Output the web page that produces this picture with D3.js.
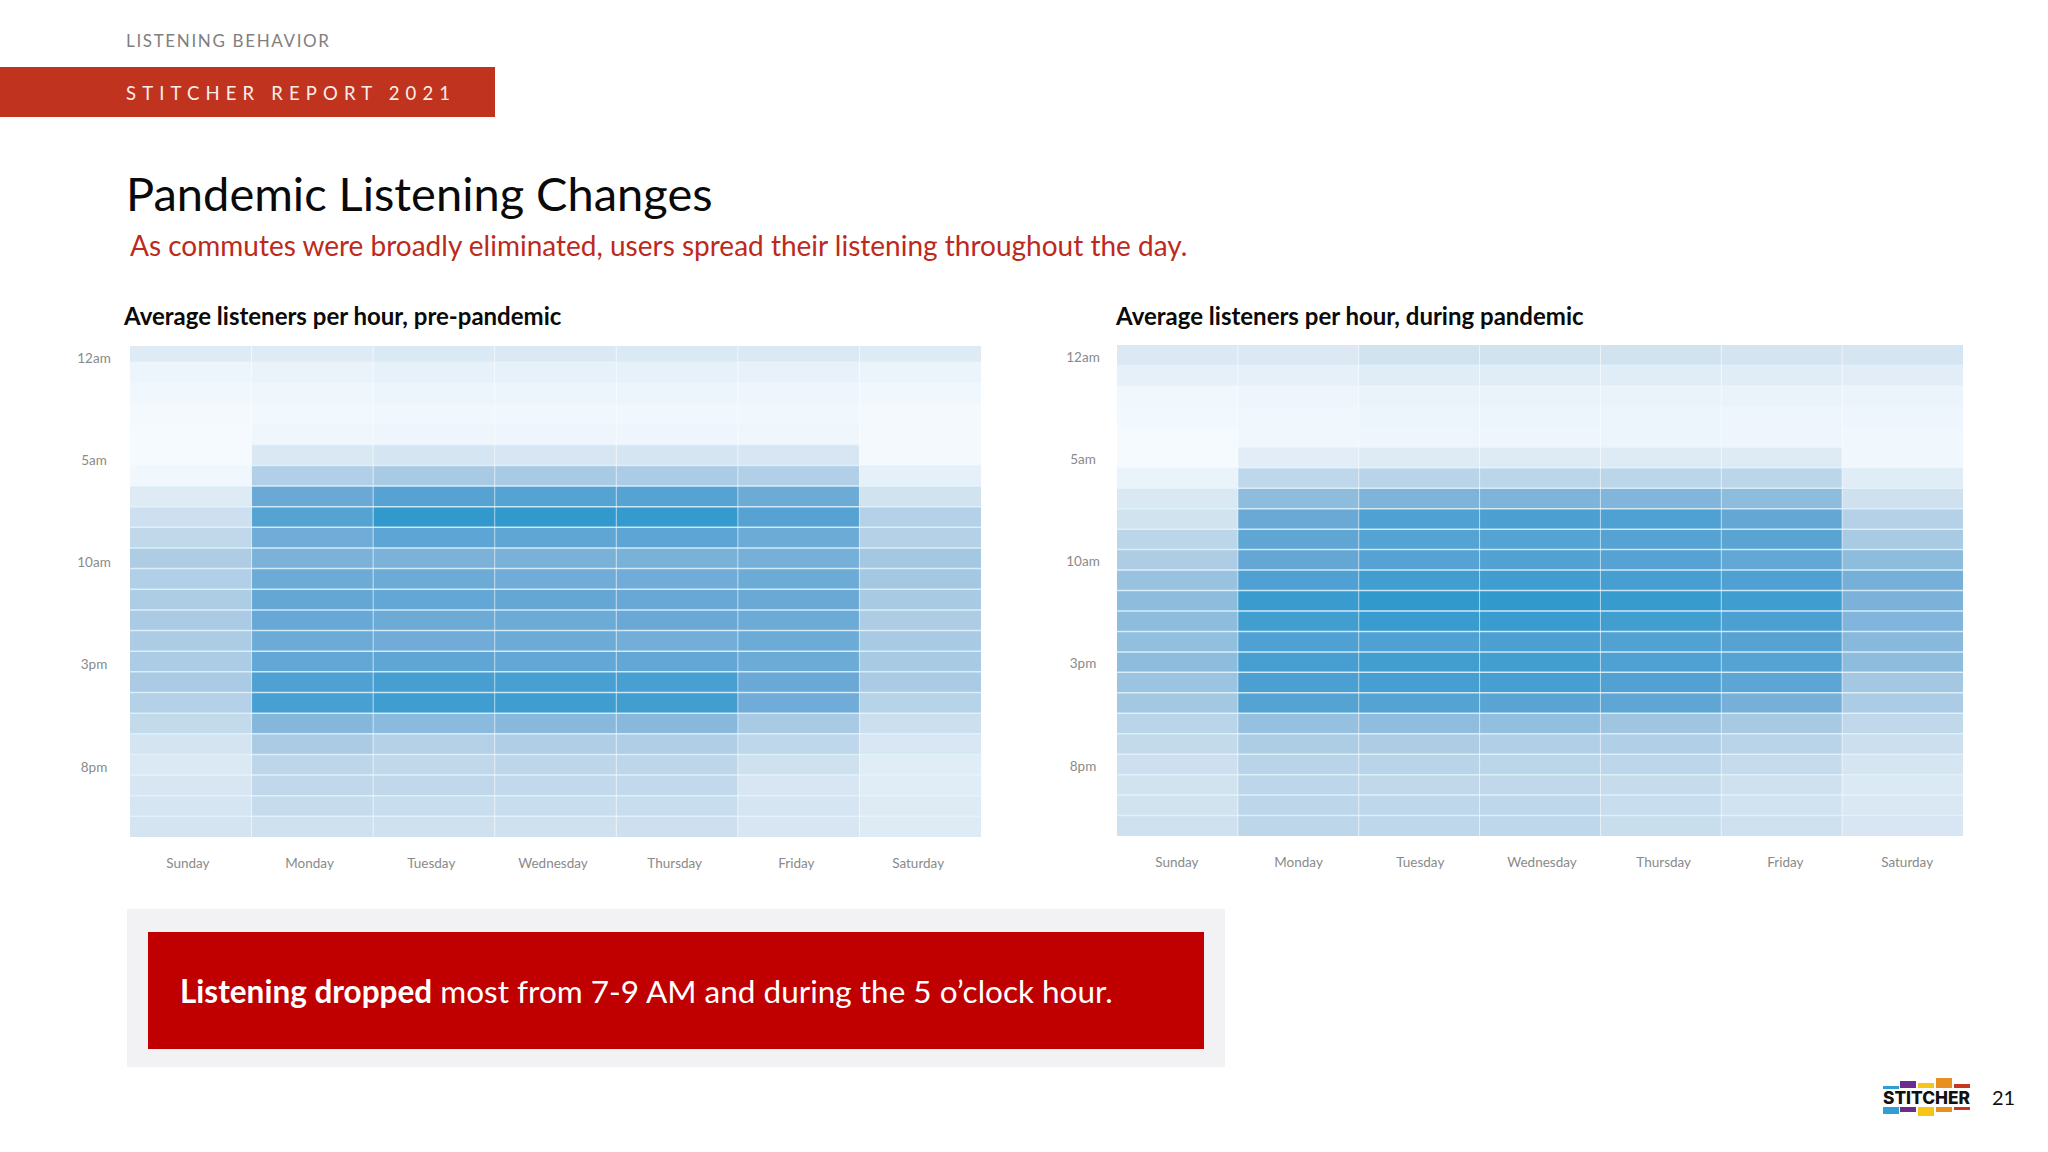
<!DOCTYPE html>
<html><head><meta charset="utf-8">
<script src="https://cdn.jsdelivr.net/npm/d3@7/dist/d3.min.js"></script>
<style>html,body{margin:0;padding:0;background:#fff}svg{display:block}text{font-family:Lato,"Open Sans",sans-serif}</style>
</head><body><svg id="c" width="2048" height="1152"></svg>
<script>
const days=["Sunday","Monday","Tuesday","Wednesday","Thursday","Friday","Saturday"];
const hours=["12am","1am","2am","3am","4am","5am","6am","7am","8am","9am","10am","11am","12pm","1pm","2pm","3pm","4pm","5pm","6pm","7pm","8pm","9pm","10pm","11pm"];
const hourTicks=["12am","5am","10am","3pm","8pm"];
const prePandemic=[
[20,20,23,22,23,23,20],[8,10,13,13,13,12,9],[5,6,8,8,8,7,5],[2,3,5,5,5,5,2],[1,6,7,7,7,6,2],[1,24,27,26,27,26,2],
[5,52,58,58,56,52,14],[20,80,87,88,87,79,30],[33,88,100,100,99,87,50],[42,78,85,84,85,79,50],[54,74,74,75,75,76,60],[52,79,79,78,78,79,60],
[55,82,83,82,81,80,58],[57,81,79,79,80,79,54],[56,79,78,79,77,79,58],[56,83,84,83,83,79,58],[57,90,93,92,92,80,57],[50,92,95,95,94,78,48],
[40,71,69,70,70,58,35],[28,57,50,53,53,43,25],[23,44,42,44,44,32,18],[26,42,42,41,41,26,18],[27,38,37,37,37,27,20],[28,32,32,32,33,26,20]];
const duringPandemic=[
[22,22,30,30,30,28,27],[14,14,18,18,18,18,17],[5,7,10,10,10,10,9],[3,5,8,8,8,7,7],[1,5,7,7,8,7,4],[1,17,20,20,20,20,4],
[10,43,47,45,45,45,18],[24,68,73,73,72,68,32],[30,80,90,91,90,82,50],[45,84,88,88,87,86,58],[54,82,87,89,87,83,68],[64,90,94,95,93,90,76],
[68,97,100,100,98,95,74],[68,94,97,97,94,91,72],[66,90,90,91,89,87,70],[68,93,94,94,90,88,68],[63,91,93,93,89,85,60],[60,88,88,86,84,76,56],
[46,65,67,66,62,59,42],[40,55,54,52,52,47,35],[33,47,47,45,44,38,27],[30,44,42,42,38,32,23],[30,44,43,43,37,31,24],[32,44,43,43,36,32,26]];

const svg=d3.select("#c");
const color=d3.scaleLinear().domain([0,30,60,80,100]).range(["#f6fbff","#d2e3f0","#a5c8e2","#6aa9d6","#3299cd"]);

function txt(x,y,s,size,fill,extra){const t=svg.append("text").attr("x",x).attr("y",y).attr("font-size",size).attr("fill",fill).text(s);
 if(extra)Object.entries(extra).forEach(([k,v])=>t.attr(k,v));return t;}

// header
svg.append("rect").attr("x",0).attr("y",67).attr("width",495).attr("height",50).attr("fill","#c0341f");
txt(126,47,"LISTENING BEHAVIOR",17,"#7f7f7f",{"letter-spacing":"1.65px"});
txt(126,100,"STITCHER REPORT 2021",18.5,"#fbeeea",{"letter-spacing":"6.14px"});
txt(126,211,"Pandemic Listening Changes",47,"#0a0a0a");
txt(130,256,"As commutes were broadly eliminated, users spread their listening throughout the day.",28,"#bd2a1c");
txt(124,325,"Average listeners per hour, pre-pandemic",24,"#0a0a0a",{"font-weight":700});
txt(1116,325,"Average listeners per hour, during pandemic",24,"#0a0a0a",{"font-weight":700});

function heatmap(id,data,L,R,T,B,rowCut,axL,axR,labelX){
 const x=d3.scaleBand().domain(days).range([L,R]);
 // the first row can be cropped at the top of the plot: the scale starts above it
 const y=d3.scaleBand().domain(hours).range([T-rowCut,B]);
 const labelY=d3.scaleBand().domain(hours).range([T,B]);
 svg.append("clipPath").attr("id",id).append("rect").attr("x",L).attr("y",T).attr("width",R-L).attr("height",B-T);
 const g=svg.append("g").attr("clip-path",`url(#${id})`).style("isolation","isolate");
 data.forEach((row,i)=>row.forEach((v,j)=>{
  g.append("rect").attr("x",x(days[j])).attr("y",y(hours[i])).attr("width",x.bandwidth()+.5).attr("height",y.bandwidth()+.5).attr("fill",color(v));
 }));
 g.selectAll(".h").data(hours.slice(1)).join("line").attr("x1",L).attr("x2",R).attr("y1",d=>y(d)).attr("y2",d=>y(d)).attr("stroke","#e2f4fd").attr("stroke-opacity",.85).attr("stroke-width",1.5).style("mix-blend-mode","lighten");
 g.selectAll(".v").data(days.slice(1)).join("line").attr("x1",d=>x(d)).attr("x2",d=>x(d)).attr("y1",T).attr("y2",B).attr("stroke","#fff").attr("stroke-opacity",.6).attr("stroke-width",1);
 const xa=d3.scaleBand().domain(days).range([axL,axR]);
 const gx=svg.append("g").attr("transform",`translate(0,${B+21})`).call(d3.axisBottom(xa).tickSize(0).tickPadding(0));
 gx.select(".domain").remove();
 gx.selectAll("text").attr("font-size",13.5).attr("fill","#8a8a8a").attr("dy","0.71em").style("font-family","Lato");
 const gy=svg.append("g").attr("transform",`translate(${labelX},2)`).call(d3.axisLeft(labelY).tickValues(hourTicks).tickSize(0).tickPadding(0));
 gy.select(".domain").remove();
 gy.selectAll("text").attr("font-size",13.5).attr("fill","#8a8a8a").attr("text-anchor","middle").style("font-family","Lato");
}
heatmap("clipPre",prePandemic,130,981,346,837,4.5,127,979,94);
heatmap("clipDuring",duringPandemic,1117,1963,345,836,0,1116,1968,1083);

// callout
svg.append("rect").attr("x",127).attr("y",909).attr("width",1098).attr("height",158).attr("fill","#f2f2f4");
svg.append("rect").attr("x",148).attr("y",932).attr("width",1056).attr("height",117).attr("fill","#c00000");
const t=txt(180,1003,"",31.5,"#fff");
t.append("tspan").attr("font-weight",700).text("Listening dropped");
t.append("tspan").text(" most from 7-9 AM and during the 5 o\u2019clock hour.");

// logo
const logoTop=[["#2e9fd0",1883,1086,16,3],["#6a2c8f",1900,1081,16,7],["#f7c517",1918,1083,16,5],["#e8901f",1936,1078,16,10],["#c8361f",1954,1084,16,4]];
const logoBot=[["#2e9fd0",1883,1107,16,7],["#6a2c8f",1900,1107,16,5],["#f7c517",1918,1107,16,9],["#e8901f",1936,1107,16,5],["#c8361f",1954,1107,16,3]];
logoTop.concat(logoBot).forEach(([c,x,y,w,h])=>svg.append("rect").attr("x",x).attr("y",y).attr("width",w).attr("height",h).attr("fill",c));
svg.append("text").attr("x",1883).attr("y",1104).attr("font-size",17).attr("font-weight",800).attr("fill","#111").attr("textLength",87).attr("lengthAdjust","spacingAndGlyphs").style("font-family","Inter").text("STITCHER");
txt(1992,1105,"21",20,"#111");
</script></body></html>
